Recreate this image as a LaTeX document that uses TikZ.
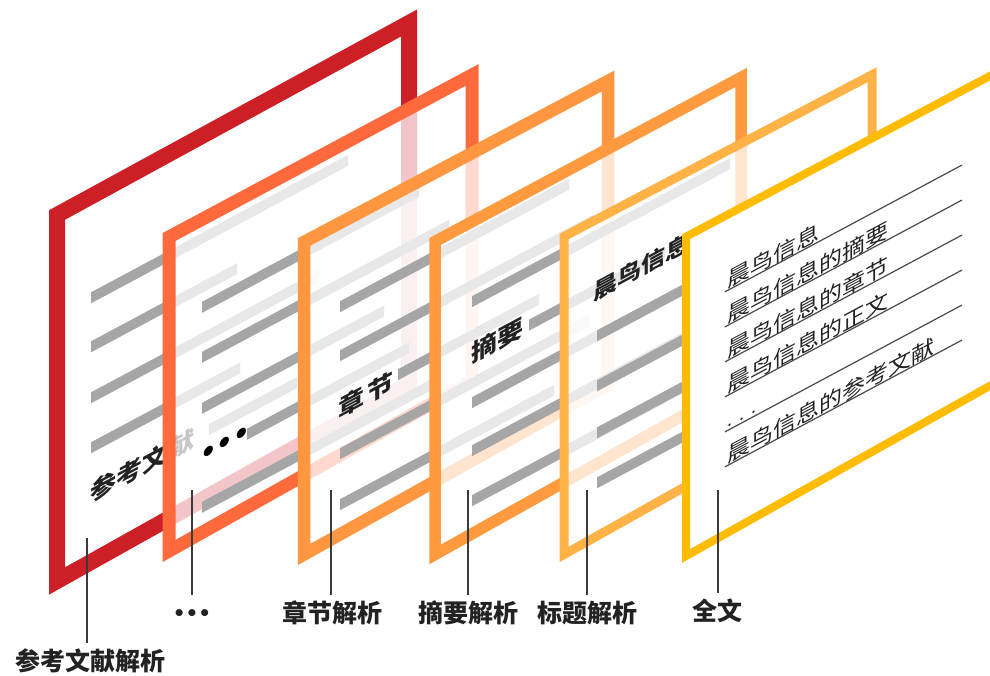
\documentclass[tikz,border=0pt]{standalone}
\usepackage{fontspec}
\newfontfamily\cjk{Noto Sans CJK SC}
\newfontfamily\dejavu{DejaVu Sans}
\definecolor{frameA}{HTML}{CC1F26}
\definecolor{frameB}{HTML}{FF6A3D}
\definecolor{frameC}{HTML}{FF9640}
\definecolor{frameD}{HTML}{FF9A3E}
\definecolor{frameE}{HTML}{FFB347}
\definecolor{frameF}{HTML}{FFBC00}
\definecolor{bargray}{HTML}{A6A6A6}
\definecolor{inkgray}{HTML}{222222}
\definecolor{leadergray}{HTML}{3A3A3A}
\definecolor{rulegray}{HTML}{4A4A4A}
\tikzset{
  sheet/.style={fill=white, fill opacity=0.75},
  sheetframe/.style={line width=#1, line join=miter},
  textbar/.style={fill=bargray},
  paneltext/.style={transform shape, inner sep=0pt, anchor=west, text=inkgray,
     font=\cjk\bfseries\fontsize{26}{26}\selectfont},
  listtext/.style={transform shape, inner sep=0pt, anchor=base west, text=inkgray,
     font=\cjk\fontsize{23}{23}\selectfont},
  underline/.style={draw=rulegray, line width=1.2pt},
  leader/.style={draw=leadergray, line width=2.4pt, shorten >=5pt},
  caption/.style={anchor=north, inner sep=0pt, text height=22pt, text depth=3pt,
     text=inkgray, font=\cjk\bfseries\fontsize{25}{25}\selectfont},
}
\begin{document}
\begin{tikzpicture}[x=1pt,y=-1pt]
\useasboundingbox (0,0) rectangle (990,675);
\fill[white] (0,0) rectangle (990,675);

% ---------- panel 1 : 参考文献 ----------
\path[sheet, fill opacity=1] (57,215) -- (409,23) -- (409,384) -- (57,581) -- cycle;
\begin{scope}[shift={(57,215)}, yslant=0.535]
  \fill[textbar] (34,95.5) rectangle (291,106.5);
  \fill[textbar] (34,144.5) rectangle (180,155.5);
  \fill[textbar] (34,195.5) rectangle (262,206.5);
  \fill[textbar] (34,245.5) rectangle (183,256.5);
  \fill[textbar] (152,290.5) rectangle (240,301.5);
  \begin{scope}[shift={(33,296)}, yscale=0.92]
    \node[paneltext] (p1text) at (0,0) {参考文献};
  \end{scope}
\end{scope}
\draw[sheetframe=16pt, draw=frameA] (57,215) -- (409,23) -- (409,384) -- (57,581) -- cycle;

% ---------- panel 2 : ... ----------
\path[sheet] (169,237) -- (472,75) -- (472,381) -- (169,551) -- cycle;
\begin{scope}[shift={(169,237)}, yslant=0.535]
  \fill[textbar] (33,82.5) rectangle (250,93.5);
  \fill[textbar] (33,132.5) rectangle (280,143.5);
  \fill[textbar] (33,183.5) rectangle (215,194.5);
  \fill[textbar] (78,233.5) rectangle (240,244.5);
  \fill[textbar] (33,282.5) rectangle (265,293.5);
  \node[transform shape, inner sep=0pt, anchor=west, text=black,
        font=\dejavu\bfseries\fontsize{26}{26}\selectfont] (p2dots) at (31,238) {•••};
\end{scope}
\draw[sheetframe=13pt, draw=frameB] (169,237) -- (472,75) -- (472,381) -- (169,551) -- cycle;

% ---------- panel 3 : 章节 ----------
\path[sheet] (304,242) -- (608,81) -- (608,384.5) -- (304,554.5) -- cycle;
\begin{scope}[shift={(304,242)}, yslant=0.535]
  \fill[textbar] (36,78.5) rectangle (265,89.5);
  \fill[textbar] (36,127.5) rectangle (290,138.5);
  \fill[textbar] (94,177.5) rectangle (235,188.5);
  \fill[textbar] (36,225.5) rectangle (285,236.5);
  \fill[textbar] (36,276.5) rectangle (250,287.5);
  \begin{scope}[shift={(34,186)}, yscale=0.92]
    \node[paneltext] (p3text) at (0,0) {章\hspace{3pt}节};
  \end{scope}
\end{scope}
\draw[sheetframe=12.5pt, draw=frameC] (304,242) -- (608,81) -- (608,384.5) -- (304,554.5) -- cycle;

% ---------- panel 4 : 摘要 ----------
\path[sheet] (435,241.5) -- (741,77.5) -- (741,383) -- (435,554.5) -- cycle;
\begin{scope}[shift={(435,241.5)}, yslant=0.535]
  \fill[textbar] (37,74.5) rectangle (295,85.5);
  \fill[textbar] (94,128.5) rectangle (230,139.5);
  \fill[textbar] (37,175.5) rectangle (280,186.5);
  \fill[textbar] (37,223.5) rectangle (260,234.5);
  \fill[textbar] (37,273.5) rectangle (285,284.5);
  \begin{scope}[shift={(36,132)}, yscale=0.92]
    \node[paneltext] (p4text) at (0,0) {摘要};
  \end{scope}
\end{scope}
\draw[sheetframe=11.5pt, draw=frameD] (435,241.5) -- (741,77.5) -- (741,383) -- (435,554.5) -- cycle;

% ---------- panel 5 : 标题 ----------
\path[sheet] (564,236.5) -- (872,74.8) -- (872,382) -- (564,554.5) -- cycle;
\begin{scope}[shift={(564,236.5)}, yslant=0.535]
  \fill[textbar] (33,111.5) rectangle (290,122.5);
  \fill[textbar] (33,161.5) rectangle (290,172.5);
  \fill[textbar] (33,208.5) rectangle (290,219.5);
  \fill[textbar] (33,258.5) rectangle (290,269.5);
  \begin{scope}[shift={(29,72)}, yscale=0.92]
    \node[paneltext, font=\cjk\bfseries\fontsize{24}{24}\selectfont] (p5text) at (0,0) {晨鸟信息};
  \end{scope}
\end{scope}
\draw[sheetframe=9pt, draw=frameE] (564,236.5) -- (872,74.8) -- (872,382) -- (564,554.5) -- cycle;

% ---------- panel 6 : 全文 ----------
\path[fill=white] (686,236.7) -- (994,73.8) -- (994,383.5) -- (686,556) -- cycle;
\begin{scope}[shift={(686,236.7)}, yslant=0.535]
  \foreach \v in {76,111,146,181,216,251} {
    \draw[underline] (39,\v) -- (276,\v);
  }
  \begin{scope}[shift={(41,74)}, yscale=0.92]
    \node[listtext] (l1) at (0,0) {晨鸟信息};
  \end{scope}
  \begin{scope}[shift={(41,109)}, yscale=0.92]
    \node[listtext] (l2) at (0,0) {晨鸟信息的摘要};
  \end{scope}
  \begin{scope}[shift={(41,144)}, yscale=0.92]
    \node[listtext] (l3) at (0,0) {晨鸟信息的章节};
  \end{scope}
  \begin{scope}[shift={(41,179)}, yscale=0.92]
    \node[listtext] (l4) at (0,0) {晨鸟信息的正文};
  \end{scope}
  \begin{scope}[shift={(41,213)}, yscale=0.92]
    \node[listtext, font=\cjk\fontsize{18}{18}\selectfont] (l5) at (0,0) {.\hspace{7pt}.\hspace{7pt}.};
  \end{scope}
  \begin{scope}[shift={(41,249)}, yscale=0.92]
    \node[listtext] (l6) at (0,0) {晨鸟信息的参考文献};
  \end{scope}
\end{scope}
\draw[sheetframe=8pt, draw=frameF] (686,236.7) -- (994,73.8) -- (994,383.5) -- (686,556) -- cycle;

% ---------- leaders and captions ----------
\coordinate (c1) at (87,538);
\coordinate (c2) at (192,490);
\coordinate (c3) at (331,490);
\coordinate (c4) at (468,490);
\coordinate (c5) at (587,490);
\coordinate (c6) at (718,490);
\node[caption] (cap1) at (90,648) {参考文献解析};
\node[caption, font=\dejavu\bfseries\fontsize{20}{20}\selectfont] (cap2) at (192,600) {\raisebox{2pt}{•••}};
\node[caption] (cap3) at (332,600) {章节解析};
\node[caption] (cap4) at (468,600) {摘要解析};
\node[caption] (cap5) at (587,600) {标题解析};
\node[caption] (cap6) at (717,598) {全文};
\draw[leader] (c1) -- (c1 |- cap1.north);
\draw[leader] (c2) -- (c2 |- cap2.north);
\draw[leader] (c3) -- (c3 |- cap3.north);
\draw[leader] (c4) -- (c4 |- cap4.north);
\draw[leader] (c5) -- (c5 |- cap5.north);
\draw[leader] (c6) -- (c6 |- cap6.north);
\end{tikzpicture}
\end{document}
